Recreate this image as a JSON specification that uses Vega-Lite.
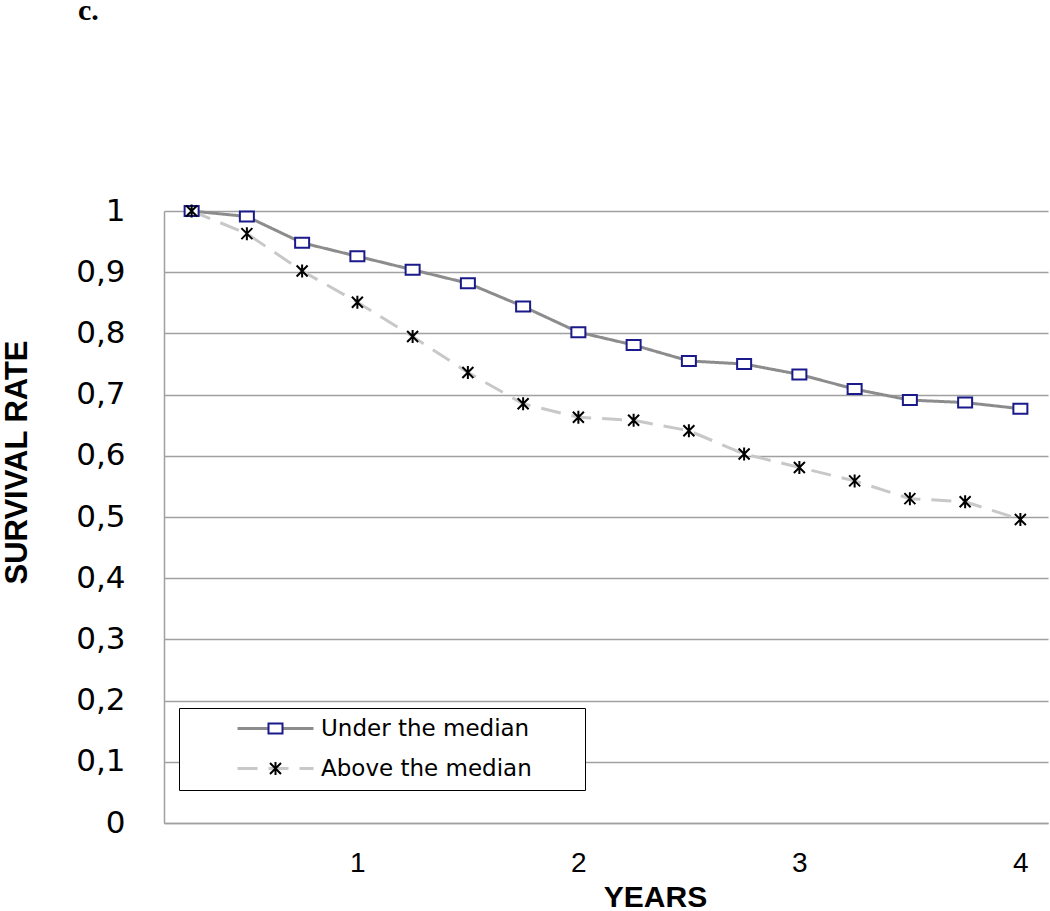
{
  "$schema": "https://vega.github.io/schema/vega-lite/v6.json",
  "autosize": {"type": "none"},
  "width": 884,
  "height": 612,
  "padding": {"left": 164, "top": 211, "right": 2, "bottom": 88},
  "background": "white",
  "config": {"view": {"stroke": null}},
  "title": {"text": "c.", "anchor": "start", "frame": "group", "font": "Liberation Serif", "fontSize": 30, "fontWeight": "bold", "color": "black", "dx": -86, "offset": 169},
  "data": {"values": [
    {"years": 0.25, "survival": 1.0, "series": "Under the median"},
    {"years": 0.5, "survival": 0.991, "series": "Under the median"},
    {"years": 0.75, "survival": 0.948, "series": "Under the median"},
    {"years": 1.0, "survival": 0.926, "series": "Under the median"},
    {"years": 1.25, "survival": 0.904, "series": "Under the median"},
    {"years": 1.5, "survival": 0.882, "series": "Under the median"},
    {"years": 1.75, "survival": 0.844, "series": "Under the median"},
    {"years": 2.0, "survival": 0.802, "series": "Under the median"},
    {"years": 2.25, "survival": 0.781, "series": "Under the median"},
    {"years": 2.5, "survival": 0.755, "series": "Under the median"},
    {"years": 2.75, "survival": 0.750, "series": "Under the median"},
    {"years": 3.0, "survival": 0.733, "series": "Under the median"},
    {"years": 3.25, "survival": 0.709, "series": "Under the median"},
    {"years": 3.5, "survival": 0.691, "series": "Under the median"},
    {"years": 3.75, "survival": 0.687, "series": "Under the median"},
    {"years": 4.0, "survival": 0.677, "series": "Under the median"},
    {"years": 0.25, "survival": 1.0, "series": "Above the median"},
    {"years": 0.5, "survival": 0.963, "series": "Above the median"},
    {"years": 0.75, "survival": 0.902, "series": "Above the median"},
    {"years": 1.0, "survival": 0.851, "series": "Above the median"},
    {"years": 1.25, "survival": 0.795, "series": "Above the median"},
    {"years": 1.5, "survival": 0.736, "series": "Above the median"},
    {"years": 1.75, "survival": 0.685, "series": "Above the median"},
    {"years": 2.0, "survival": 0.663, "series": "Above the median"},
    {"years": 2.25, "survival": 0.658, "series": "Above the median"},
    {"years": 2.5, "survival": 0.641, "series": "Above the median"},
    {"years": 2.75, "survival": 0.603, "series": "Above the median"},
    {"years": 3.0, "survival": 0.581, "series": "Above the median"},
    {"years": 3.25, "survival": 0.559, "series": "Above the median"},
    {"years": 3.5, "survival": 0.530, "series": "Above the median"},
    {"years": 3.75, "survival": 0.525, "series": "Above the median"},
    {"years": 4.0, "survival": 0.496, "series": "Above the median"}
  ]},
  "encoding": {
    "x": {"field": "years", "type": "quantitative",
      "scale": {"domain": [0.125, 4.125], "nice": false, "zero": false},
      "axis": {"values": [1, 2, 3, 4], "ticks": false, "grid": false, "labelFlush": false, "labelOverlap": false,
        "labelFont": "Liberation Sans", "labelFontSize": 28, "labelColor": "black", "labelBaseline": "middle", "labelPadding": 40,
        "domainColor": "#a0a0a0", "domainWidth": 1.5,
        "title": "YEARS", "titleFont": "Liberation Sans", "titleFontSize": 30, "titleFontWeight": "bold", "titleColor": "black",
        "titleX": 491, "titleY": 83, "titleBaseline": "alphabetic", "titleAlign": "center"}},
    "y": {"field": "survival", "type": "quantitative",
      "scale": {"domain": [0, 1], "nice": false},
      "axis": {"values": [0, 0.1, 0.2, 0.3, 0.4, 0.5, 0.6, 0.7, 0.8, 0.9, 1],
        "labelExpr": "replace(format(datum.value, '.1~f'), '.', ',')",
        "ticks": false, "labelPadding": 39, "labelFlush": false, "labelOverlap": false,
        "labelFont": "DejaVu Sans", "labelFontSize": 31, "labelColor": "black", "labelBaseline": "middle",
        "grid": true, "gridColor": "#a0a0a0", "gridWidth": 1.5,
        "domainColor": "#a0a0a0", "domainWidth": 1.5,
        "title": "SURVIVAL RATE", "titleFont": "Liberation Sans", "titleFontSize": 31, "titleFontWeight": "bold", "titleColor": "black",
        "titleAngle": -90, "titleX": -147, "titleY": 251, "titleAlign": "center", "titleBaseline": "middle"}}
  },
  "layer": [
    {
      "mark": {"type": "line", "strokeWidth": 3},
      "encoding": {
        "color": {"field": "series", "type": "nominal",
          "scale": {"domain": ["Under the median", "Above the median"], "range": ["#8c8c8c", "#c8c8c8"]},
          "legend": {"orient": "none", "legendX": 15, "legendY": 497, "title": null, "direction": "vertical",
            "symbolType": "M-7.6,0H7.6M58.8,0H58.81", "symbolSize": 100, "symbolStrokeWidth": 3, "symbolOffset": 76, "labelOffset": 34,
            "labelFont": "DejaVu Sans", "labelFontSize": 23, "labelColor": "black", "labelLimit": 0,
            "rowPadding": 16, "padding": 9,
            "strokeColor": "black", "fillColor": "white"}},
        "strokeDash": {"field": "series", "type": "nominal",
          "scale": {"domain": ["Under the median", "Above the median"], "range": [[1, 0], [20, 11]]},
          "legend": {"orient": "none", "legendX": 15, "legendY": 497, "title": null, "direction": "vertical",
            "symbolType": "M-7.6,0H7.6M58.8,0H58.81", "symbolSize": 100, "symbolStrokeWidth": 3, "symbolOffset": 76, "labelOffset": 34,
            "labelFont": "DejaVu Sans", "labelFontSize": 23, "labelColor": "black", "labelLimit": 0,
            "rowPadding": 16, "padding": 9,
            "strokeColor": "black", "fillColor": "white"}}
      }
    },
    {
      "mark": {"type": "point", "filled": true, "strokeWidth": 2, "size": 100, "opacity": 1},
      "encoding": {
        "fill": {"field": "series", "type": "nominal", "sort": ["Under the median", "Above the median"],
          "scale": {"range": ["white", "white"]},
          "legend": null},
        "stroke": {"field": "series", "type": "nominal", "sort": ["Under the median", "Above the median"],
          "scale": {"range": ["#1a1a8a", "#000000"]},
          "legend": {"orient": "none", "legendX": 15, "legendY": 497, "title": null, "direction": "vertical",
            "values": ["Under the median"],
            "symbolType": "M-1.4,-1H1.4V1H-1.4Z",
            "symbolSize": 100, "symbolStrokeWidth": 2, "symbolFillColor": "white", "symbolOffset": 76, "labelOffset": 34,
            "labelFont": "DejaVu Sans", "labelFontSize": 23, "labelColor": "transparent", "labelLimit": 0,
            "rowPadding": 16, "padding": 9}},
        "shape": {"field": "series", "type": "nominal", "sort": "descending",
          "scale": {"range": ["M-1.4,-1H1.4V1H-1.4Z", "M-1.1,-1.1L1.1,1.1M1.1,-1.1L-1.1,1.1M0,-1.3V1.3"]},
          "legend": {"orient": "none", "legendX": 15, "legendY": 537, "title": null, "direction": "vertical",
            "values": ["Above the median"],
            "symbolType": "M-1,-1L1,1M1,-1L-1,1M0,-1.2V1.2",
            "symbolSize": 100, "symbolStrokeWidth": 2, "symbolFillColor": "black", "symbolStrokeColor": "black", "symbolOffset": 76, "labelOffset": 34,
            "labelFont": "DejaVu Sans", "labelFontSize": 23, "labelColor": "transparent", "labelLimit": 0,
            "rowPadding": 16, "padding": 9}}
      }
    }
  ]
}
